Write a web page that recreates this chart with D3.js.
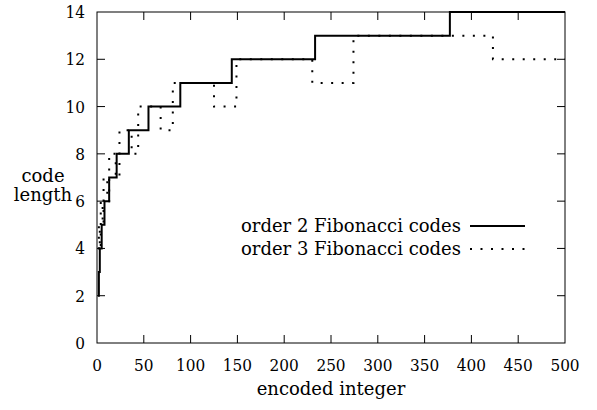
<!DOCTYPE html>
<html>
<head>
<meta charset="utf-8">
<script src="https://cdn.jsdelivr.net/npm/d3@7"></script>
<style>
  body { margin: 0; background: #fff; }
</style>
</head>
<body>
<div id="chart"></div>
<script>
// Order 2 Fibonacci codes: integer where the code length steps up, and the new length
const fib2Starts = [1, 2, 3, 5, 8, 13, 21, 34, 55, 89, 144, 233, 377];
const fib2Lengths = [2, 3, 4, 5, 6, 7, 8, 9, 10, 11, 12, 13, 14];

// Order 3 Fibonacci codes
const fib3Starts = [1, 2, 3, 4, 6, 7, 11, 13, 20, 24, 37, 44, 68, 81, 125, 149, 230, 274, 423];
const fib3Lengths = [4, 5, 4, 6, 5, 7, 6, 8, 7, 9, 8, 10, 9, 11, 10, 12, 11, 13, 12];

const xTicks = [0, 50, 100, 150, 200, 250, 300, 350, 400, 450, 500];
const yTicks = [0, 2, 4, 6, 8, 10, 12, 14];
const seriesNames = ["order 2 Fibonacci codes", "order 3 Fibonacci codes"];

const width = 597, height = 410;
const margin = {top: 12, right: 32, bottom: 67, left: 97};
const labelFont = "'DejaVu Serif'";

const svg = d3.select("#chart").append("svg")
    .attr("width", width)
    .attr("height", height)
    .style("font-family", "'DejaVu Serif Condensed', 'DejaVu Serif'")
    .style("font-size", "17px");

const x = d3.scaleLinear().domain([0, 500]).range([margin.left, width - margin.right]);
const y = d3.scaleLinear().domain([0, 14]).range([height - margin.bottom, margin.top]);

// frame
svg.append("rect")
    .attr("x", x(0)).attr("y", y(14))
    .attr("width", x(500) - x(0)).attr("height", y(0) - y(14))
    .attr("fill", "none").attr("stroke", "#000").attr("stroke-width", 1);

// inward ticks on all four sides
const tickLen = 8;
const g = svg.append("g").attr("stroke", "#000").attr("stroke-width", 1);
xTicks.slice(1, -1).forEach(t => {
    g.append("line").attr("x1", x(t)).attr("x2", x(t)).attr("y1", y(0)).attr("y2", y(0) - tickLen);
    g.append("line").attr("x1", x(t)).attr("x2", x(t)).attr("y1", y(14)).attr("y2", y(14) + tickLen);
});
yTicks.slice(1, -1).forEach(t => {
    g.append("line").attr("x1", x(0)).attr("x2", x(0) + tickLen).attr("y1", y(t)).attr("y2", y(t));
    g.append("line").attr("x1", x(500)).attr("x2", x(500) - tickLen).attr("y1", y(t)).attr("y2", y(t));
});

// tick labels
svg.selectAll("text.xt").data(xTicks).enter().append("text")
    .attr("class", "xt")
    .attr("x", d => x(d)).attr("y", y(0) + 28)
    .attr("text-anchor", "middle")
    .text(d => d);

svg.selectAll("text.yt").data(yTicks).enter().append("text")
    .attr("class", "yt")
    .attr("x", x(0) - 12).attr("y", d => y(d) + 6)
    .attr("text-anchor", "end")
    .text(d => d);

// axis titles
svg.append("text")
    .attr("x", (x(0) + x(500)) / 2).attr("y", 395)
    .attr("text-anchor", "middle")
    .style("font-family", labelFont)
    .style("font-size", "18px")
    .text("encoded integer");

svg.append("text")
    .attr("x", 43).attr("y", 182)
    .attr("text-anchor", "middle")
    .style("font-family", labelFont)
    .style("font-size", "18px")
    .text("code");
svg.append("text")
    .attr("x", 43).attr("y", 201)
    .attr("text-anchor", "middle")
    .style("font-family", labelFont)
    .style("font-size", "18px")
    .text("length");

// step lines
function stepData(starts, lengths) {
    const pts = starts.map((s, i) => [s, lengths[i]]);
    pts.push([500, lengths[lengths.length - 1]]);
    return pts;
}
const line = d3.line()
    .x(d => x(d[0]))
    .y(d => y(d[1]))
    .curve(d3.curveStepAfter);

svg.append("path")
    .datum(stepData(fib3Starts, fib3Lengths))
    .attr("d", line)
    .attr("fill", "none")
    .attr("stroke", "#000")
    .attr("stroke-width", 2)
    .attr("stroke-dasharray", "2 8.5");

svg.append("path")
    .datum(stepData(fib2Starts, fib2Lengths))
    .attr("d", line)
    .attr("fill", "none")
    .attr("stroke", "#000")
    .attr("stroke-width", 2);

// legend
const legend = svg.append("g");
seriesNames.forEach((name, i) => {
    const ly = 226 + i * 23;
    legend.append("text")
        .attr("x", 461).attr("y", ly + 6)
        .attr("text-anchor", "end")
        .style("font-family", labelFont)
        .style("font-size", "18px")
        .text(name);
    legend.append("line")
        .attr("x1", 470).attr("x2", 525)
        .attr("y1", ly).attr("y2", ly)
        .attr("stroke", "#000")
        .attr("stroke-width", 2)
        .attr("stroke-dasharray", i === 0 ? null : "2 8.5");
});
</script>
</body>
</html>
